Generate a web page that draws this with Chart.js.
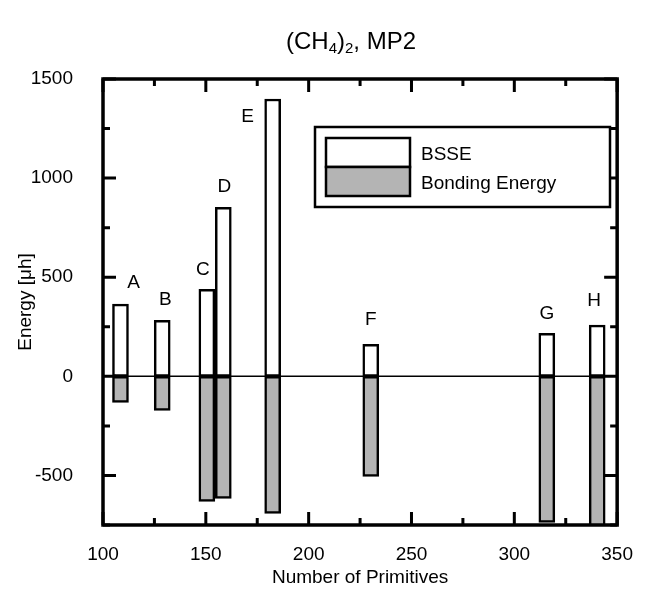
<!DOCTYPE html>
<html lang="en">
<head>
    <meta charset="UTF-8">
    <title>(CH4)2, MP2 - BSSE vs Bonding Energy</title>
    <script src="https://cdn.jsdelivr.net/npm/chart.js"></script>
    <style>
        html, body { margin: 0; padding: 0; background: #fff; }
        #wrap { width: 651px; height: 599px; }
    </style>
</head>
<body>
    <div id="wrap"><canvas id="energyChart"></canvas></div>

    <script>
        // Data
        const systems = ['A', 'B', 'C', 'D', 'E', 'F', 'G', 'H'];
        const primitives = [108.5, 128.8, 150.5, 158.5, 182.5, 230.2, 315.8, 340.3];
        const bsse = [364, 283, 439, 853, 1399, 162, 217, 258];
        const bondingEnergy = [-131, -172, -631, -616, -692, -505, -737, -760];
        const yTicks = [-500, 0, 500, 1000, 1500];

        const FONT = '"Liberation Sans", Arial, Helvetica, sans-serif';
        const GRAY = '#b4b4b4';

        // pixel nudges for the A..H letters (relative to top of the BSSE bar)
        const letterOffsets = [[13, -21], [3, -20], [-4, -20], [1, -20], [-25, 18], [0, -24], [0, -20], [-3, -24]];

        // Title with subscripts
        const titlePlugin = {
            id: 'chemTitle',
            afterDraw(chart) {
                const ctx = chart.ctx;
                const parts = [['(CH', false], ['4', true], [')', false], ['2', true], [', MP2', false]];
                const big = 'normal 24px ' + FONT, small = 'normal 15px ' + FONT;
                ctx.save();
                ctx.fillStyle = '#000';
                ctx.textBaseline = 'alphabetic';
                let w = 0;
                parts.forEach(p => { ctx.font = p[1] ? small : big; w += ctx.measureText(p[0]).width; });
                let x = 351 - w / 2;
                const y = 49;
                parts.forEach(p => {
                    ctx.font = p[1] ? small : big;
                    ctx.fillText(p[0], x, p[1] ? y + 4 : y);
                    x += ctx.measureText(p[0]).width;
                });
                ctx.restore();
            }
        };

        // Frame, inward ticks, zero line, letters and legend box
        const framePlugin = {
            id: 'frame',
            afterDatasetsDraw(chart) {
                const {ctx, chartArea: a, scales: {x, y}} = chart;
                ctx.save();
                ctx.strokeStyle = '#000';

                // zero line
                ctx.lineWidth = 1.5;
                const y0 = y.getPixelForValue(0);
                ctx.beginPath();
                ctx.moveTo(a.left, y0);
                ctx.lineTo(a.right, y0);
                ctx.stroke();

                // ticks
                ctx.lineWidth = 3;
                for (let v = 100; v <= 350; v += 25) {
                    const px = x.getPixelForValue(v);
                    const len = v % 50 === 0 ? 13 : 7;
                    ctx.beginPath();
                    ctx.moveTo(px, a.bottom); ctx.lineTo(px, a.bottom - len);
                    ctx.moveTo(px, a.top); ctx.lineTo(px, a.top + len);
                    ctx.stroke();
                }
                for (let v = -750; v <= 1500; v += 250) {
                    const py = y.getPixelForValue(v);
                    const len = v % 500 === 0 ? 13 : 7;
                    ctx.beginPath();
                    ctx.moveTo(a.left, py); ctx.lineTo(a.left + len, py);
                    ctx.moveTo(a.right, py); ctx.lineTo(a.right - len, py);
                    ctx.stroke();
                }

                // frame
                ctx.lineWidth = 3.5;
                ctx.strokeRect(a.left, a.top, a.right - a.left, a.bottom - a.top);

                // letters above bars
                ctx.fillStyle = '#000';
                ctx.font = 'normal 19px ' + FONT;
                ctx.textAlign = 'center';
                ctx.textBaseline = 'middle';
                systems.forEach((s, i) => {
                    const px = x.getPixelForValue(primitives[i]);
                    const py = y.getPixelForValue(bsse[i]);
                    ctx.fillText(s, px + letterOffsets[i][0], py + letterOffsets[i][1]);
                });

                // legend
                const lx = 315, ly = 127, lw = 295, lh = 80;
                ctx.fillStyle = '#fff';
                ctx.fillRect(lx, ly, lw, lh);
                ctx.lineWidth = 2.5;
                ctx.strokeRect(lx, ly, lw, lh);
                const sx = 326, sw = 84, sh = 29, sy = 138;
                chart.data.datasets.forEach((ds, i) => {
                    ctx.fillStyle = ds.backgroundColor;
                    ctx.fillRect(sx, sy + i * sh, sw, sh);
                    ctx.strokeRect(sx, sy + i * sh, sw, sh);
                    ctx.fillStyle = '#000';
                    ctx.textAlign = 'left';
                    ctx.fillText(ds.label, sx + sw + 11, sy + i * sh + sh / 2 + 2);
                });
                ctx.restore();
            }
        };

        const toPoints = vals => vals.map((v, i) => ({x: primitives[i], y: v}));

        new Chart(document.getElementById('energyChart').getContext('2d'), {
            type: 'bar',
            data: {
                datasets: [{
                    label: 'BSSE',
                    data: toPoints(bsse),
                    backgroundColor: '#ffffff',
                    borderColor: '#000',
                    borderWidth: 2.5,
                    borderSkipped: false,
                    barThickness: 16,
                    grouped: false
                }, {
                    label: 'Bonding Energy',
                    data: toPoints(bondingEnergy),
                    backgroundColor: GRAY,
                    borderColor: '#000',
                    borderWidth: 2.5,
                    borderSkipped: false,
                    barThickness: 16,
                    grouped: false
                }]
            },
            options: {
                responsive: true,
                maintainAspectRatio: false,
                animation: false,
                layout: { padding: { top: 79, right: 18, bottom: 0, left: 0 } },
                plugins: {
                    legend: { display: false },
                    tooltip: { enabled: false }
                },
                scales: {
                    x: {
                        type: 'linear',
                        min: 100,
                        max: 350,
                        offset: false,
                        grid: { display: false, drawTicks: false },
                        border: { display: false },
                        ticks: { stepSize: 50, padding: 18, color: '#000', font: { family: FONT, size: 19 },
                                 callback: v => String(v) },
                        title: { display: true, text: 'Number of Primitives', color: '#000',
                                 font: { family: FONT, size: 19 }, padding: { top: 0, bottom: 10 } },
                        afterFit(scale) { scale.height = 74; }
                    },
                    y: {
                        min: -750,
                        max: 1500,
                        grid: { display: false, drawTicks: false },
                        border: { display: false },
                        afterBuildTicks(scale) {
                            scale.ticks = yTicks.map(v => ({value: v}));
                        },
                        ticks: { padding: 30, color: '#000', font: { family: FONT, size: 19 },
                                 callback: v => String(v) },
                        title: { display: true, text: 'Energy [\u03bch]', color: '#000',
                                 font: { family: FONT, size: 19 }, padding: { top: 14, bottom: 0 } },
                        afterFit(scale) { scale.width = 103; }
                    }
                }
            },
            plugins: [titlePlugin, framePlugin]
        });
    </script>
</body>
</html>
